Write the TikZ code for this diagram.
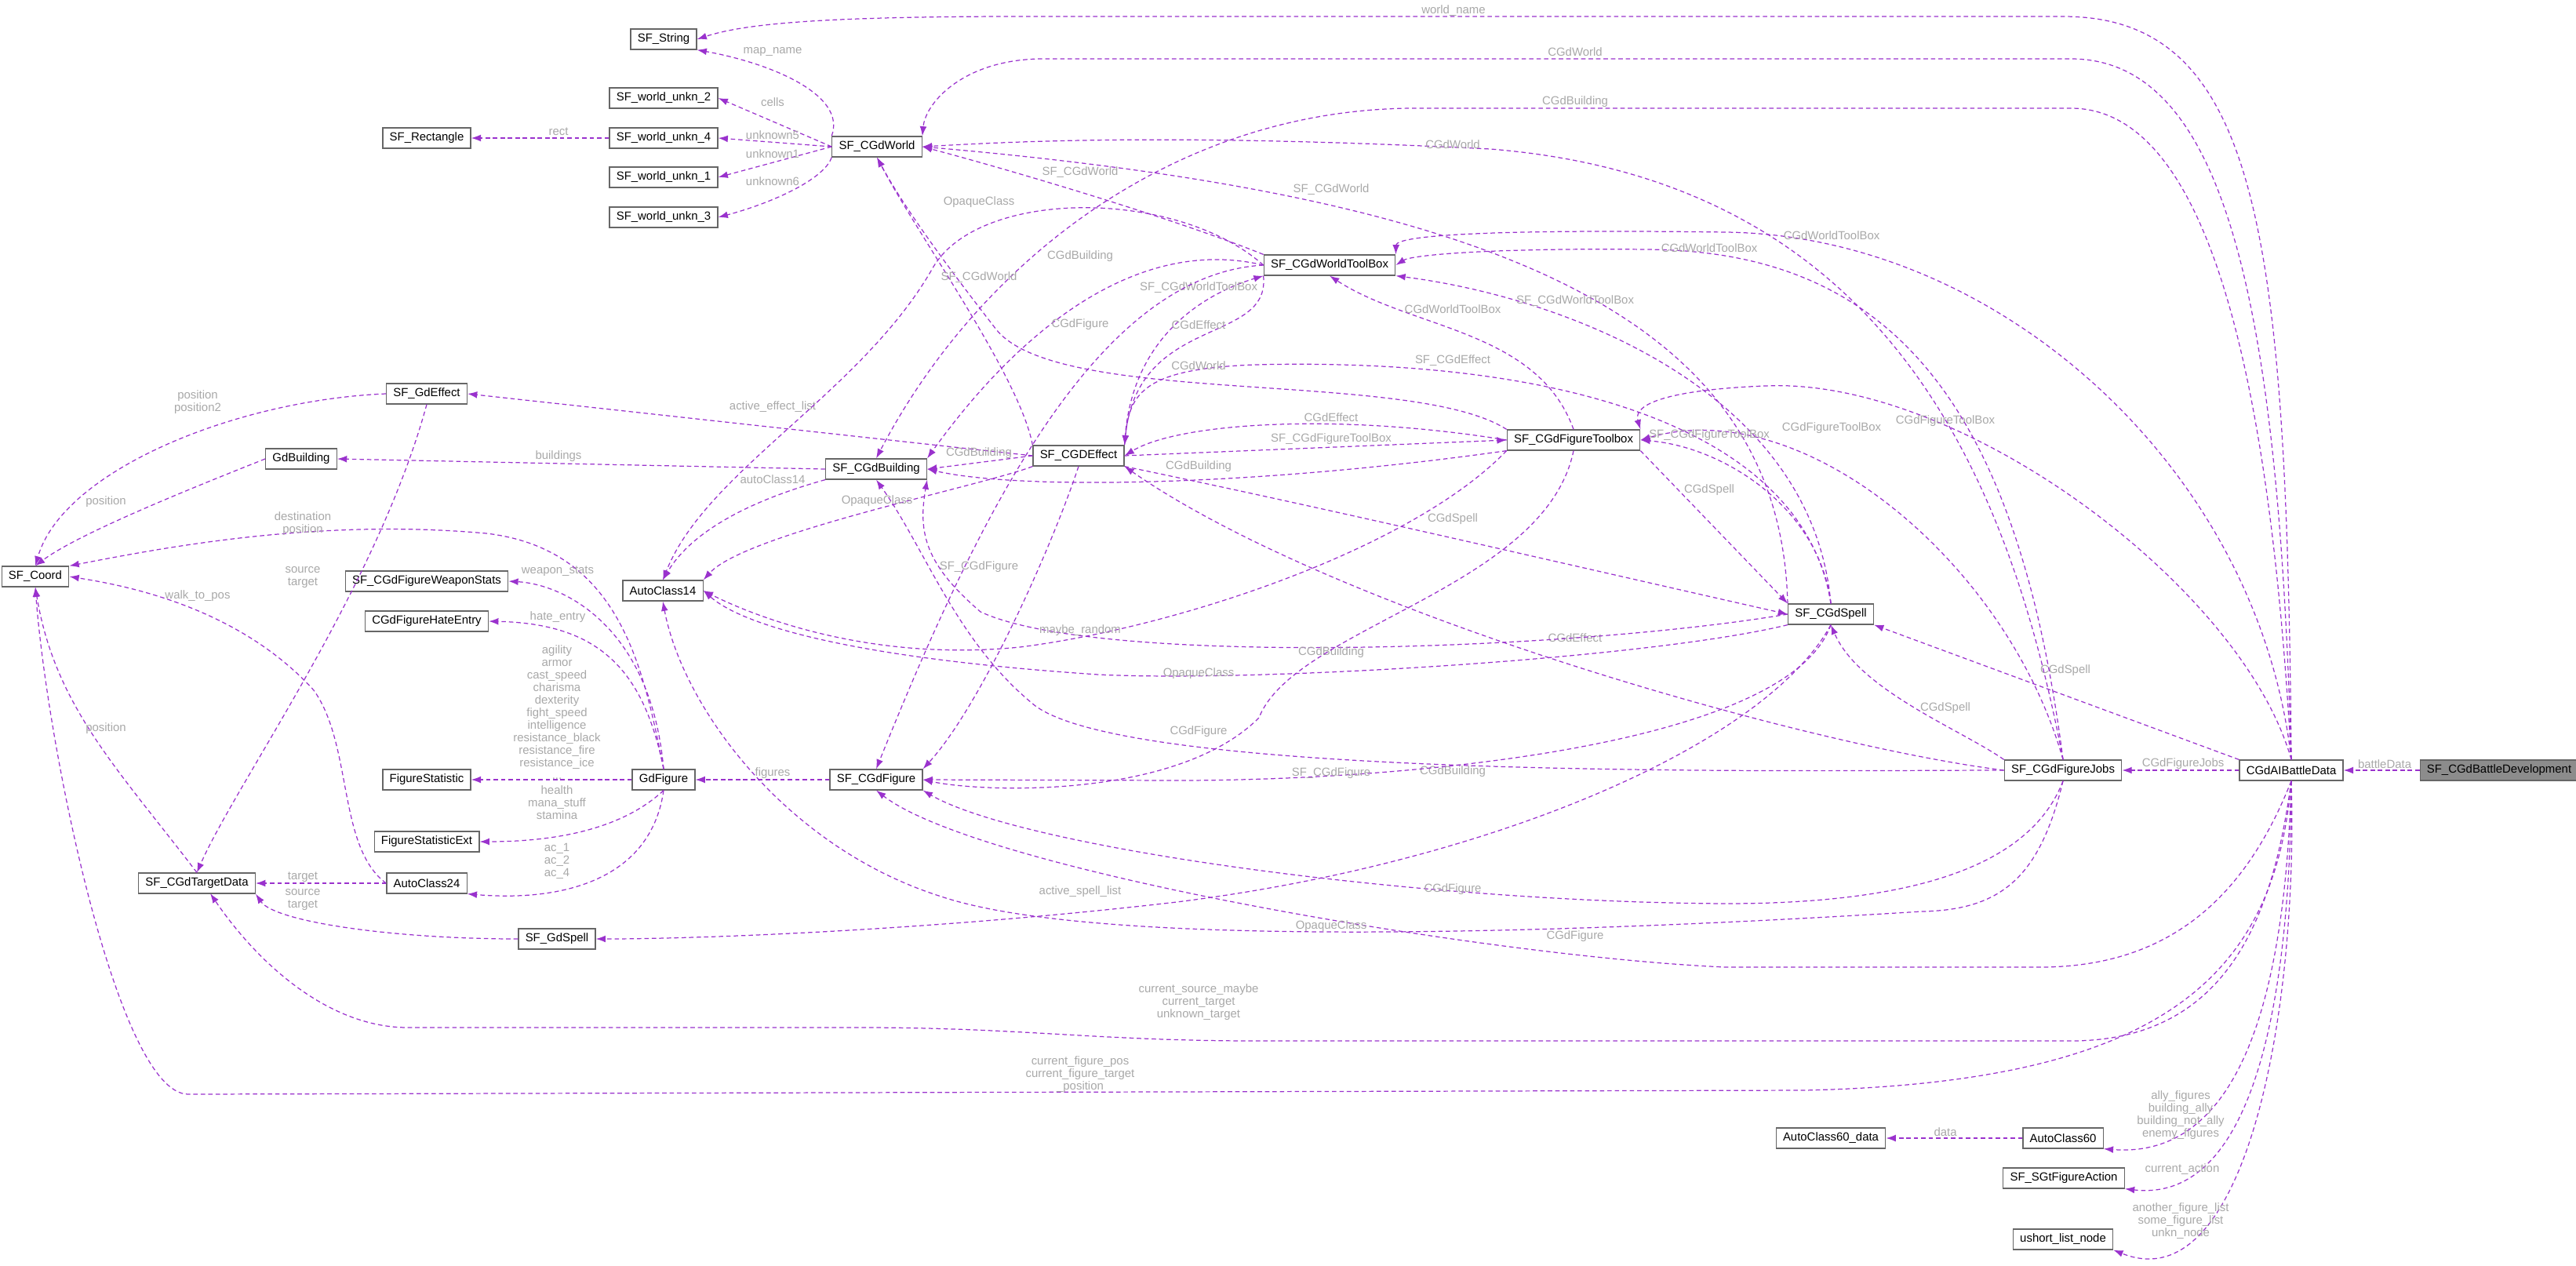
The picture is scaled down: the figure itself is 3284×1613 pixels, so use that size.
\documentclass[tikz,border=0pt]{standalone}
\usepackage{fontspec}
\setmainfont{Liberation Sans}
\usetikzlibrary{arrows.meta}
\definecolor{edgecol}{HTML}{9A32CD}
\definecolor{lblcol}{HTML}{A8A8A8}
\tikzset{
  cls/.style={draw=black!60, line width=0.7pt, fill=white, minimum height=0.52cm, inner xsep=5pt, font=\fontsize{8.5}{9}\selectfont},
  edge/.style={draw=edgecol, line width=0.7pt, dash pattern=on 3.2pt off 2.2pt, -{Latex[length=7pt,width=5pt]}},
  lbl/.style={text=lblcol, inner sep=0pt, align=center, font=\fontsize{8.5}{9.1}\selectfont}
}
\begin{document}
\begin{tikzpicture}[x=0.02cm, y=-0.02cm]
  \useasboundingbox (0,0) rectangle (3284,1613);
  %classes, left part
  \node[cls] (str) at (846,50) {SF\_String};
  \node[cls] (wu2) at (846,125) {SF\_world\_unkn\_2};
  \node[cls] (rect) at (544,176) {SF\_Rectangle};
  \node[cls] (wu4) at (846,176) {SF\_world\_unkn\_4};
  \node[cls] (wu1) at (846,226) {SF\_world\_unkn\_1};
  \node[cls] (wu3) at (846,277) {SF\_world\_unkn\_3};
  \node[cls] (world) at (1118,187) {SF\_CGdWorld};
  \node[cls] (gdeffect) at (544,502) {SF\_GdEffect};
  \node[cls] (gdbuild) at (384,585) {GdBuilding};
  \node[cls] (cbuild) at (1117,598) {SF\_CGdBuilding};
  \node[cls] (coord) at (45,735) {SF\_Coord};
  \node[cls] (wstats) at (544,741) {SF\_CGdFigureWeaponStats};
  \node[cls] (ac14) at (845,753) {AutoClass14};
  \node[cls] (hate) at (544,792) {CGdFigureHateEntry};
  \node[cls] (fstat) at (544,994) {FigureStatistic};
  \node[cls] (gdfig) at (846,994) {GdFigure};
  \node[cls] (cfig) at (1117,994) {SF\_CGdFigure};
  \node[cls] (fstatx) at (544,1073) {FigureStatisticExt};
  \node[cls] (target) at (251,1126) {SF\_CGdTargetData};
  \node[cls] (ac24) at (544,1126) {AutoClass24};
  \node[cls] (gdspell) at (710,1197) {SF\_GdSpell};
  %classes, middle and right part
  \node[cls] (wtb) at (1695,338) {SF\_CGdWorldToolBox};
  \node[cls] (ceff) at (1375,581) {SF\_CGDEffect};
  \node[cls] (ftb) at (2006,561) {SF\_CGdFigureToolbox};
  \node[cls] (spell) at (2334,783) {SF\_CGdSpell};
  \node[cls] (jobs) at (2630,982) {SF\_CGdFigureJobs};
  \node[cls] (ai) at (2921,982) {CGdAIBattleData};
  \node[cls, fill=black!45] (dev) at (3186,982) {SF\_CGdBattleDevelopment};
  \node[cls] (ac60d) at (2334,1451) {AutoClass60\_data};
  \node[cls] (ac60) at (2630,1451) {AutoClass60};
  \node[cls] (action) at (2631,1502) {SF\_SGtFigureAction};
  \node[cls] (ushort) at (2630,1580) {ushort\_list\_node};

  %SF_CGdBattleDevelopment and CGdAIBattleData
  \draw[edge] (dev) -- (ai);
  \node[lbl] (l-battle) at (3040,974) {battleData};
  \draw[edge] (ai) -- (jobs);
  \node[lbl] (l-jobs) at (2783,974) {CGdFigureJobs};
  \draw[edge] (ai.south) .. controls (2915,1200) and (2880,1480) .. (ac60.south east);
  \node[lbl] (l-ally) at (2780,1422) {ally\_figures\\building\_ally\\building\_not\_ally\\enemy\_figures};
  \draw[edge] (ai.south) .. controls (2920,1250) and (2880,1535) .. (action.south east);
  \node[lbl] (l-action) at (2782,1491) {current\_action};
  \draw[edge] (ai.south) .. controls (2930,1300) and (2860,1660) .. (ushort.south east);
  \node[lbl] (l-list) at (2780,1557) {another\_figure\_list\\some\_figure\_list\\unkn\_node};
  \draw[edge] (ac60) -- (ac60d);
  \node[lbl] (l-data) at (2480,1443) {data};
  \draw[edge] (ai.south) .. controls (2900,1150) and (2850,1327) .. (2640,1327) -- (1600,1327)
    .. controls (1400,1327) and (1300,1310) .. (1100,1310) -- (520,1310)
    .. controls (420,1310) and (330,1230) .. (268,1139);
  \node[lbl] (l-cur) at (1528,1278) {current\_source\_maybe\\current\_target\\unknown\_target};
  \draw[edge] (ai.south) .. controls (2900,1250) and (2750,1380) .. (2300,1390) -- (240,1395)
    .. controls (150,1395) and (60,950) .. (coord.south);
  \node[lbl] (l-pos) at (1377,1370) {current\_figure\_pos\\current\_figure\_target\\\_position};
  \draw[edge] (ai.north) .. controls (2915,300) and (2880,21) .. (2630,21) -- (1300,21)
    .. controls (1050,21) and (950,30) .. (str.east);
  \node[lbl] (l-wname) at (1853,14) {world\_name};
  \draw[edge] (ai.north) .. controls (2905,400) and (2840,75) .. (2640,75) -- (1330,75)
    .. controls (1230,75) and (1180,130) .. (world.north east);
  \node[lbl] (l-aiw) at (2008,66) {CGdWorld};
  \draw[edge] (ai.north) .. controls (2895,500) and (2820,138) .. (2640,138) -- (1800,138)
    .. controls (1500,140) and (1250,330) .. (cbuild.north);
  \node[lbl] (l-aib) at (2008,130) {CGdBuilding};
  \draw[edge] (ai.north) .. controls (2880,600) and (2550,300) .. (2200,296)
    .. controls (1900,292) and (1780,300) .. (wtb.north east);
  \node[lbl] (l-aiwtb) at (2335,300) {CGdWorldToolBox};
  \draw[edge] (ai.north) .. controls (2860,750) and (2500,480) .. (2250,492)
    .. controls (2150,496) and (2080,510) .. (ftb.north east);
  \node[lbl] (l-aiftb) at (2480,537) {CGdFigureToolBox};
  \draw[edge] (ai.north west) -- (spell.south east);
  \node[lbl] (l-aispell) at (2633,855) {CGdSpell};
  \draw[edge] (ai.south) .. controls (2860,1150) and (2760,1233) .. (2600,1233) -- (2200,1233)
    .. controls (1900,1220) and (1250,1110) .. (cfig.south);
  \node[lbl] (l-aifig) at (2008,1194) {CGdFigure};

  %SF_CGdFigureJobs
  \draw[edge] (jobs.south) .. controls (2600,1120) and (2550,1160) .. (2450,1162)
    .. controls (2000,1190) and (1400,1210) .. (1200,1143) .. controls (1000,1080) and (870,900) .. (ac14.south);
  \node[lbl] (l-jac) at (1697,1181) {OpaqueClass};
  \draw[edge] (jobs.south) .. controls (2590,1100) and (2450,1152) .. (2200,1152)
    .. controls (1800,1150) and (1300,1080) .. (cfig.south east);
  \node[lbl] (l-jfig) at (1852,1134) {CGdFigure};
  \draw[edge] (jobs.north west) .. controls (2500,930) and (2370,880) .. (spell.south);
  \node[lbl] (l-jspell) at (2480,903) {CGdSpell};
  \draw[edge] (jobs.north) .. controls (2560,600) and (2400,230) .. (1900,190)
    .. controls (1500,170) and (1300,180) .. (world.east);
  \node[lbl] (l-jw) at (1852,184) {CGdWorld};
  \draw[edge] (jobs.north) .. controls (2570,500) and (2400,320) .. (2100,318)
    .. controls (1900,316) and (1800,325) .. (wtb.east);
  \node[lbl] (l-jwtb) at (2179,316) {CGdWorldToolBox};
  \draw[edge] (jobs.north) .. controls (2560,720) and (2300,500) .. (ftb.east);
  \node[lbl] (l-jftb) at (2335,546) {CGdFigureToolBox};
  \draw[edge] (jobs.west) .. controls (2300,950) and (1700,780) .. (ceff.south east);
  \node[lbl] (l-jeff) at (2008,813) {CGdEffect};
  \draw[edge] (jobs.west) .. controls (2300,982) and (1450,995) .. (1320,900)
    .. controls (1220,820) and (1180,700) .. (cbuild.south);
  \node[lbl] (l-jb) at (1852,984) {CGdBuilding};

  %SF_CGdSpell
  \draw[edge] (spell.south) .. controls (2250,950) and (1900,1100) .. (1500,1150)
    .. controls (1200,1185) and (900,1197) .. (gdspell.east);
  \node[lbl] (l-active) at (1377,1137) {active\_spell\_list};
  \draw[edge] (spell.north west) .. controls (2270,400) and (1900,250) .. (world.east);
  \node[lbl] (l-sw) at (1697,242) {SF\_CGdWorld};
  \draw[edge] (spell.north) .. controls (2310,500) and (2000,380) .. (wtb.south east);
  \node[lbl] (l-swtb) at (2008,384) {SF\_CGdWorldToolBox};
  \draw[edge] (spell.north) .. controls (2300,550) and (2000,455) .. (1600,465)
    .. controls (1460,470) and (1440,500) .. (ceff.north east);
  \node[lbl] (l-seff) at (1852,460) {SF\_CGdEffect};
  \draw[edge] (spell.north) .. controls (2320,650) and (2200,570) .. (ftb.east);
  \node[lbl] (l-sftb) at (2179,555) {SF\_CGdFigureToolBox};
  \draw[edge] (spell.west) .. controls (2000,830) and (1400,850) .. (1250,780)
    .. controls (1180,720) and (1170,680) .. (cbuild.south east);
  \node[lbl] (l-sb) at (1697,832) {CGdBuilding};
  \draw[edge] (spell.south west) .. controls (2100,840) and (1600,870) .. (1400,860)
    .. controls (1100,840) and (950,800) .. (ac14.east);
  \node[lbl] (l-sac) at (1528,859) {OpaqueClass};
  \draw[edge] (spell.south) .. controls (2280,950) and (1800,995) .. (1500,995) -- (cfig.east);
  \node[lbl] (l-sfig) at (1697,986) {SF\_CGdFigure};

  %SF_CGdFigureToolbox
  \draw[edge] (ftb.north west) .. controls (1800,470) and (1350,520) .. (1270,420)
    .. controls (1200,330) and (1150,260) .. (world.south);
  \node[lbl] (l-fw) at (1528,466) {CGdWorld};
  \draw[edge] (ftb.north) .. controls (1960,420) and (1800,420) .. (wtb.south);
  \node[lbl] (l-fwtb) at (1852,394) {CGdWorldToolBox};
  \draw[edge] (ftb.west) .. controls (1700,525) and (1500,540) .. (ceff.east);
  \node[lbl] (l-feff) at (1697,532) {CGdEffect};
  \draw[edge] (ftb.south west) .. controls (1600,620) and (1300,625) .. (cbuild.east);
  \node[lbl] (l-fb) at (1528,595) {CGdBuilding};
  \draw[edge] (ftb.south east) -- (spell.north west);
  \node[lbl] (l-fspell) at (2179,625) {CGdSpell};
  \draw[edge] (ftb.south) .. controls (1970,750) and (1650,800) .. (1605,915)
    .. controls (1500,1020) and (1250,1010) .. (cfig.east);
  \node[lbl] (l-ffig) at (1528,933) {CGdFigure};
  \draw[edge] (ftb.south west) .. controls (1800,700) and (1500,800) .. (1300,825)
    .. controls (1100,845) and (950,780) .. (ac14.east);
  \node[lbl] (l-frand) at (1377,804) {maybe\_random};

  %SF_CGDEffect
  \draw[edge] (ceff.west) -- (gdeffect.east);
  \node[lbl] (l-elist) at (985,519) {active\_effect\_list};
  \draw[edge] (ceff.south west) .. controls (1250,620) and (950,680) .. (ac14.north east);
  \node[lbl] (l-eac) at (1118,639) {OpaqueClass};
  \draw[edge] (ceff.north west) .. controls (1300,480) and (1170,300) .. (world.south);
  \node[lbl] (l-ew) at (1248,354) {SF\_CGdWorld};
  \draw[edge] (ceff.west) -- (cbuild.east);
  \node[lbl] (l-eb) at (1248,578) {CGdBuilding};
  \draw[edge] (ceff.north east) .. controls (1440,420) and (1550,370) .. (wtb.south west);
  \node[lbl] (l-ewtb) at (1528,367) {SF\_CGdWorldToolBox};
  \draw[edge] (ceff.east) -- (ftb.west);
  \node[lbl] (l-eftb) at (1697,560) {SF\_CGdFigureToolBox};
  \draw[edge] (ceff.south) .. controls (1340,700) and (1250,900) .. (cfig.north east);
  \node[lbl] (l-efig) at (1248,723) {SF\_CGdFigure};
  \draw[edge] (ceff.south east) .. controls (1700,650) and (2000,720) .. (spell.west);
  \node[lbl] (l-espell) at (1852,662) {CGdSpell};

  %SF_CGdWorldToolBox
  \draw[edge] (wtb.north west) .. controls (1500,280) and (1300,220) .. (world.east);
  \node[lbl] (l-tw) at (1377,220) {SF\_CGdWorld};
  \draw[edge] (wtb.west) .. controls (1500,240) and (1250,240) .. (1190,340)
    .. controls (1100,500) and (900,600) .. (ac14.north);
  \node[lbl] (l-tac) at (1248,258) {OpaqueClass};
  \draw[edge] (wtb.west) .. controls (1450,300) and (1300,420) .. (cbuild.north east);
  \node[lbl] (l-tb) at (1377,327) {CGdBuilding};
  \draw[edge] (wtb.south west) .. controls (1620,440) and (1450,400) .. (ceff.north east);
  \node[lbl] (l-teff) at (1528,414) {CGdEffect};
  \draw[edge] (wtb.west) .. controls (1400,350) and (1250,650) .. (cfig.north);
  \node[lbl] (l-tfig) at (1377,414) {CGdFigure};

  %SF_CGdWorld and SF_world_unkn_4
  \draw[edge] (world.north west) .. controls (1080,120) and (980,80) .. (str.south east);
  \node[lbl] (l-map) at (985,66) {map\_name};
  \draw[edge] (world.west) -- (wu2.east);
  \node[lbl] (l-cells) at (985,130) {cells};
  \draw[edge] (world.west) -- (wu4.east);
  \node[lbl] (l-u5) at (985,172) {unknown5};
  \draw[edge] (world.west) -- (wu1.east);
  \node[lbl] (l-u1) at (985,196) {unknown1};
  \draw[edge] (world.south west) .. controls (1050,230) and (980,260) .. (wu3.east);
  \node[lbl] (l-u6) at (985,231) {unknown6};
  \draw[edge] (wu4) -- (rect);
  \node[lbl] (l-rect) at (712,168) {rect};

  %SF_CGdBuilding and GdBuilding
  \draw[edge] (cbuild.west) -- (gdbuild.east);
  \node[lbl] (l-blds) at (712,582) {buildings};
  \draw[edge] (cbuild.south west) .. controls (950,640) and (880,680) .. (ac14.north);
  \node[lbl] (l-b14) at (985,611) {autoClass14};
  \draw[edge] (gdbuild.west) .. controls (250,620) and (100,680) .. (coord.north);
  \node[lbl] (l-bpos) at (135,640) {position};
  \draw[edge] (gdeffect.west) .. controls (300,510) and (80,600) .. (coord.north);
  \node[lbl] (l-epos) at (252,513) {position\\position2};
  \draw[edge] (gdeffect.south) .. controls (480,750) and (300,1000) .. (target.north);
  \node[lbl] (l-est) at (386,736) {source\\target};

  %SF_CGdFigure and GdFigure
  \draw[edge] (cfig) -- (gdfig);
  \node[lbl] (l-figs) at (985,986) {figures};
  \draw[edge] (gdfig.north) .. controls (820,850) and (790,700) .. (620,680)
    .. controls (400,660) and (200,700) .. (coord.north east);
  \node[lbl] (l-dest) at (386,668) {destination\\position};
  \draw[edge] (gdfig.north) .. controls (830,800) and (720,745) .. (wstats.east);
  \node[lbl] (l-ws) at (711,728) {weapon\_stats};
  \draw[edge] (gdfig.north) .. controls (820,850) and (760,795) .. (hate.east);
  \node[lbl] (l-hate) at (711,787) {hate\_entry};
  \draw[edge] (gdfig) -- (fstat);
  \node[lbl] (l-stat) at (710,908) {agility\\armor\\cast\_speed\\charisma\\dexterity\\fight\_speed\\intelligence\\resistance\_black\\resistance\_fire\\resistance\_ice\\...};
  \draw[edge] (gdfig.south) .. controls (790,1060) and (700,1073) .. (fstatx.east);
  \node[lbl] (l-statx) at (710,1023) {health\\mana\_stuff\\stamina};
  \draw[edge] (gdfig.south) .. controls (830,1120) and (720,1150) .. (ac24.south east);
  \node[lbl] (l-ac) at (710,1098) {ac\_1\\ac\_2\\ac\_4};

  %AutoClass24, SF_GdSpell and SF_CGdTargetData
  \draw[edge] (ac24) -- (target);
  \node[lbl] (l-tgt) at (386,1118) {target};
  \draw[edge] (ac24.west) .. controls (430,1080) and (450,950) .. (400,880)
    .. controls (300,770) and (150,745) .. (coord.east);
  \node[lbl] (l-walk) at (252,760) {walk\_to\_pos};
  \draw[edge] (gdspell.west) .. controls (500,1197) and (350,1175) .. (target.south east);
  \node[lbl] (l-sst) at (386,1147) {source\\target};
  \draw[edge] (target.north) .. controls (150,980) and (70,900) .. (coord.south);
  \node[lbl] (l-tpos) at (135,929) {position};
\end{tikzpicture}
\end{document}
